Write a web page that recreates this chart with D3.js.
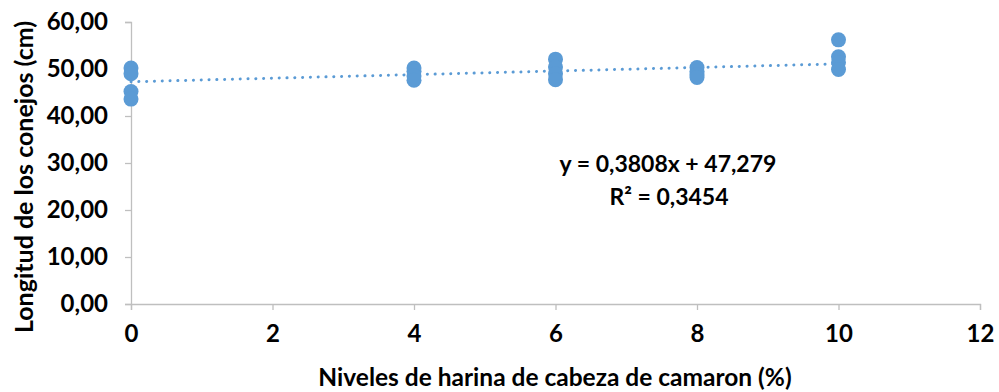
<!DOCTYPE html>
<html>
<head>
<meta charset="utf-8">
<script src="https://cdn.jsdelivr.net/npm/d3@7"></script>
<style>
  body { margin: 0; background: #fff; }
  text { font-family: Lato, "Open Sans", sans-serif; font-weight: bold; fill: #000; }
</style>
</head>
<body>
<svg id="chart" width="999" height="392"></svg>
<script>
// niveles de harina (%) y longitud (cm)
const niveles = [0, 0, 0, 0, 4, 4, 4, 4, 6, 6, 6, 6, 8, 8, 8, 8, 10, 10, 10, 10];
const longitud = [50.2, 49.0, 45.2, 43.6, 50.2, 49.5, 48.5, 47.6, 52.1, 50.4, 49.0, 47.7,
                  50.3, 49.5, 48.8, 48.2, 56.2, 52.6, 51.4, 49.9];
const xTicks = [0, 2, 4, 6, 8, 10, 12];
const yTicks = [0, 10, 20, 30, 40, 50, 60];
const slope = 0.3808, intercept = 47.279, r2 = 0.3454;

const blue = "#5b9bd5";
const axisColor = "#bfbfbf";

const svg = d3.select("#chart");
const margin = { left: 131, right: 19, top: 22, bottom: 88 };
const width = 999 - margin.left - margin.right;
const height = 392 - margin.top - margin.bottom;

const g = svg.append("g").attr("transform", `translate(${margin.left},${margin.top})`);

const x = d3.scaleLinear().domain([0, 12]).range([0, width]);
const y = d3.scaleLinear().domain([0, 60]).range([height, 0]);

const fmt = d => d.toFixed(2).replace(".", ",");

// eje y
const yAxis = g.append("g")
  .call(d3.axisLeft(y).tickValues(yTicks).tickSize(6).tickPadding(17).tickFormat(fmt));
// eje x
const xAxis = g.append("g")
  .attr("transform", `translate(0,${height})`)
  .call(d3.axisBottom(x).tickValues(xTicks).tickSize(6).tickPadding(20).tickFormat(d3.format("d")));

[xAxis, yAxis].forEach(a => {
  a.select(".domain").attr("stroke", axisColor).attr("stroke-width", 1.3);
  a.selectAll(".tick line").attr("stroke", axisColor).attr("stroke-width", 1.3);
  a.selectAll(".tick text").style("font-size", "24px").attr("fill", "#000");
});
xAxis.selectAll(".tick text").attr("dy", "0.5em");

// linea de tendencia
g.append("line")
  .attr("x1", x(0)).attr("y1", y(intercept))
  .attr("x2", x(10)).attr("y2", y(intercept + slope * 10))
  .attr("stroke", blue)
  .attr("stroke-width", 3)
  .attr("stroke-linecap", "round")
  .attr("stroke-dasharray", "0.1 7.7");

// puntos
g.selectAll("circle.pt")
  .data(niveles.map((n, i) => ({ n: n, v: longitud[i] })))
  .join("circle")
  .attr("class", "pt")
  .attr("cx", d => x(d.n))
  .attr("cy", d => y(d.v))
  .attr("r", 7.5)
  .attr("fill", blue);

// ecuacion
g.append("text")
  .attr("x", 668 - margin.left).attr("y", 172 - margin.top)
  .attr("text-anchor", "middle")
  .style("font-size", "23px")
  .text(`y = ${String(slope).replace(".", ",")}x + ${String(intercept).replace(".", ",")}`);
g.append("text")
  .attr("x", 669 - margin.left).attr("y", 205 - margin.top)
  .attr("text-anchor", "middle")
  .style("font-size", "23px")
  .text("R² = " + String(r2).replace(".", ","));

// titulos
svg.append("text")
  .attr("x", 555).attr("y", 386)
  .attr("text-anchor", "middle")
  .style("font-size", "24.5px")
  .text("Niveles de harina de cabeza de camaron (%)");

svg.append("text")
  .attr("transform", "translate(33,177) rotate(-90)")
  .attr("text-anchor", "middle")
  .style("font-size", "25px")
  .text("Longitud de los conejos (cm)");
</script>
</body>
</html>
